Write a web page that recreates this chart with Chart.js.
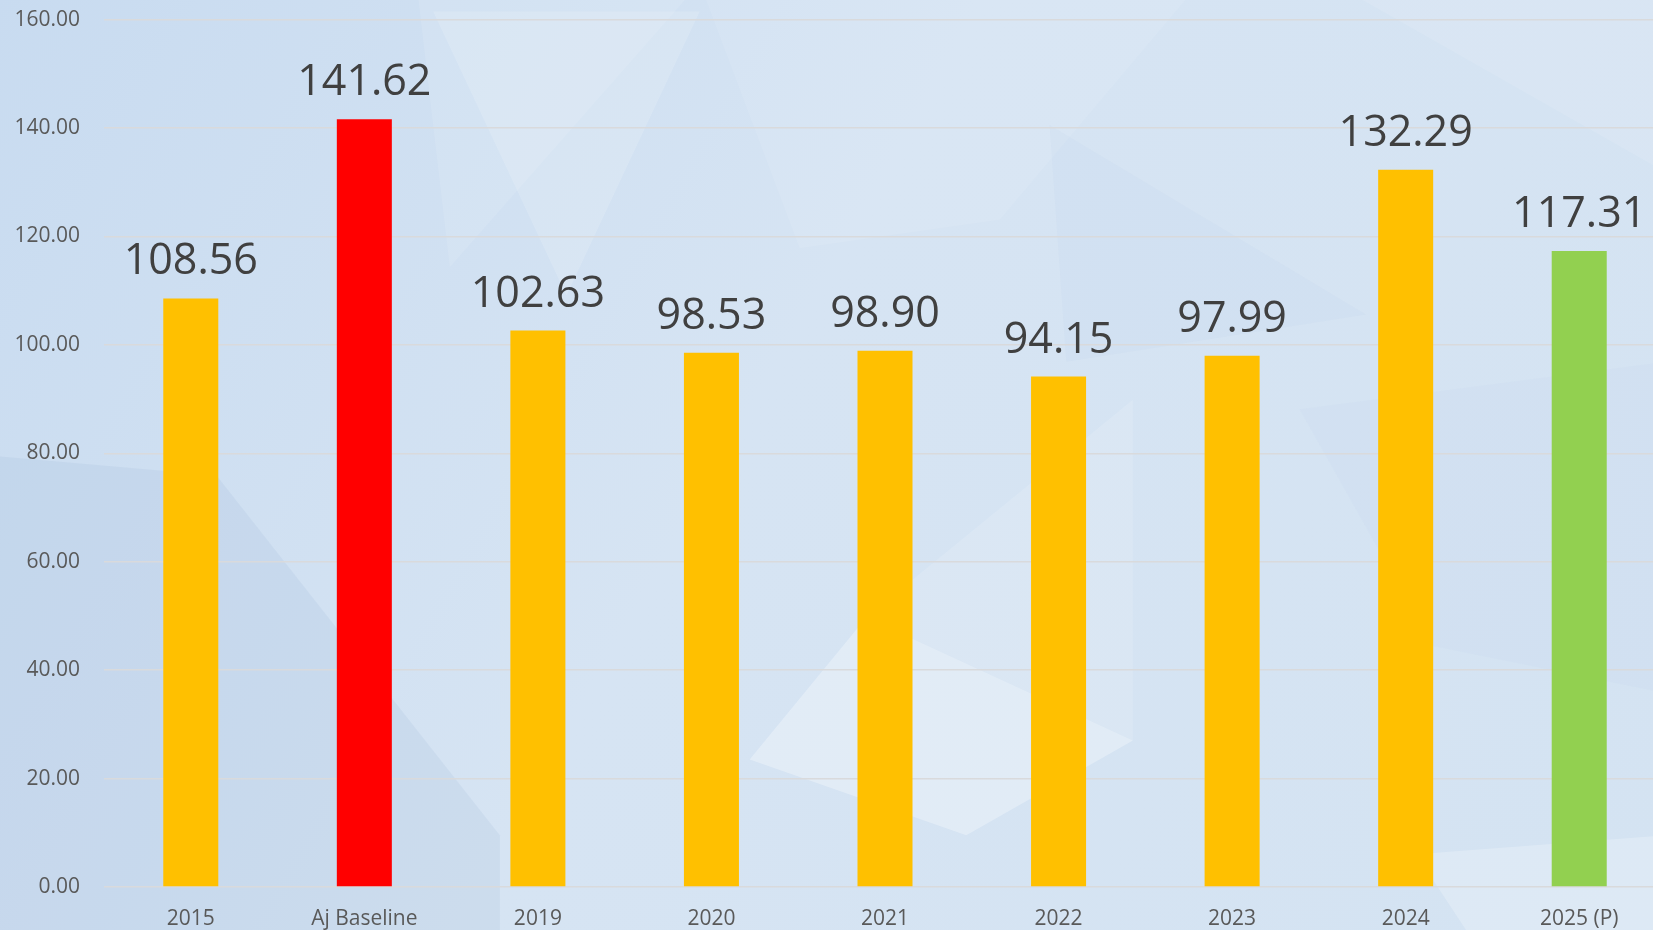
<!DOCTYPE html>
<html>
<head>
<meta charset="utf-8">
<script src="https://cdn.jsdelivr.net/npm/chart.js@4.4.0/dist/chart.umd.min.js"></script>
<style>
  html, body { margin: 0; padding: 0; overflow: hidden; background: #d3e1f1; width: 1653px; height: 930px; }
  #wrap { position: absolute; left: 0; top: -17px; width: 1666px; height: 947px; }
</style>
</head>
<body>
<div id="wrap"><canvas id="c"></canvas></div>
<script>
const categories = ["2015", "Aj Baseline", "2019", "2020", "2021", "2022", "2023", "2024", "2025 (P)"];
const values = [108.56, 141.62, 102.63, 98.53, 98.90, 94.15, 97.99, 132.29, 117.31];
const barColors = ["#FFC000", "#FF0000", "#FFC000", "#FFC000", "#FFC000", "#FFC000", "#FFC000", "#FFC000", "#92D050"];
const yMin = 0, yMax = 160, yStep = 20;

const FONT = "'Open Sans', 'DejaVu Sans', sans-serif";

const bgPlugin = {
  id: 'bg',
  beforeDraw(chart) {
    const { ctx, width: w, height: h } = chart;
    ctx.save();
    const g = ctx.createLinearGradient(0, 0, w, h);
    g.addColorStop(0, '#c8dbf0');
    g.addColorStop(0.45, '#d6e4f3');
    g.addColorStop(1, '#d4e3f2');
    ctx.fillStyle = g;
    ctx.fillRect(0, 0, w, h);
    const polys = [
      [[[0.25,0],[0.42,0],[0.27,0.3]], 'rgba(255,255,255,0.10)'],
      [[[0.26,0.03],[0.42,0.03],[0.34,0.33]], 'rgba(255,255,255,0.14)'],
      [[[0.42,0],[0.72,0],[0.6,0.25],[0.48,0.28]], 'rgba(255,255,255,0.08)'],
      [[[0,0.5],[0.13,0.52],[0.3,0.9],[0.3,1],[0,1]], 'rgba(150,175,210,0.15)'],
      [[[0.45,0.82],[0.52,0.67],[0.68,0.8],[0.58,0.9]], 'rgba(255,255,255,0.30)'],
      [[[0.52,0.67],[0.68,0.8],[0.68,0.44]], 'rgba(255,255,255,0.12)'],
      [[[0.8,0],[1,0],[1,0.2]], 'rgba(255,255,255,0.10)'],
      [[[0.63,0.15],[0.82,0.35],[0.64,0.4]], 'rgba(170,195,225,0.08)'],
      [[[0.78,0.45],[1,0.4],[1,0.75],[0.86,0.7]], 'rgba(190,210,235,0.10)'],
      [[[0.85,0.92],[1,0.9],[1,1],[0.88,1]], 'rgba(255,255,255,0.22)']
    ];
    for (const [pts, col] of polys) {
      ctx.beginPath();
      pts.forEach(([px, py], i) => i ? ctx.lineTo(px * w, py * h) : ctx.moveTo(px * w, py * h));
      ctx.closePath();
      ctx.fillStyle = col;
      ctx.fill();
    }
    ctx.restore();
  }
};

const labelPlugin = {
  id: 'valLabels',
  afterDatasetsDraw(chart) {
    const { ctx } = chart;
    const meta = chart.getDatasetMeta(0);
    ctx.save();
    ctx.font = "43px " + FONT;
    ctx.fillStyle = '#404040';
    ctx.textAlign = 'center';
    ctx.textBaseline = 'alphabetic';
    meta.data.forEach((bar, i) => {
      ctx.fillText(values[i].toFixed(2), bar.x, bar.y - 24);
    });
    ctx.restore();
  }
};

new Chart(document.getElementById('c'), {
  type: 'bar',
  data: {
    labels: categories,
    datasets: [{
      data: values,
      backgroundColor: barColors,
      borderWidth: 0,
      barPercentage: 1,
      categoryPercentage: 0.317
    }]
  },
  options: {
    responsive: true,
    maintainAspectRatio: false,
    animation: false,
    layout: { padding: { top: 6, right: 0, left: 0, bottom: 0 } },
    plugins: { legend: { display: false }, tooltip: { enabled: false } },
    scales: {
      x: {
        grid: { display: false, drawTicks: false },
        border: { display: false },
        ticks: { color: '#595959', font: { family: FONT, size: 21 }, padding: 19, maxRotation: 0, autoSkip: false },
        afterFit(scale) { scale.height = 43; }
      },
      y: {
        min: yMin, max: yMax,
        grid: { color: '#d9dadc', lineWidth: 1.5, drawTicks: false },
        border: { display: false },
        ticks: {
          stepSize: yStep,
          color: '#595959',
          font: { family: FONT, size: 21 },
          padding: 24,
          callback: v => Number(v).toFixed(2)
        },
        afterFit(scale) { scale.width = 104; }
      }
    }
  },
  plugins: [bgPlugin, labelPlugin]
});
</script>
</body>
</html>
